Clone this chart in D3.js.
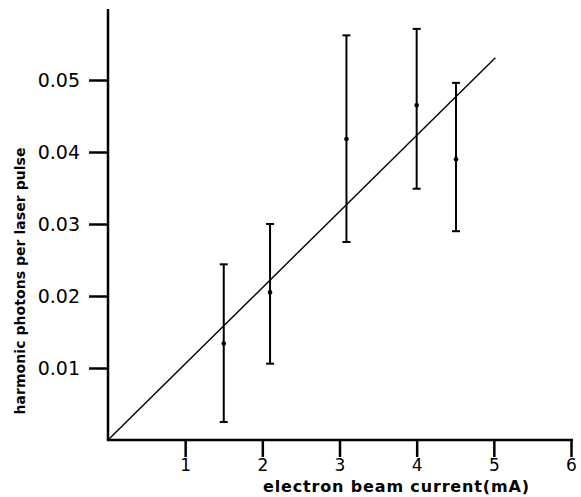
<!DOCTYPE html>
<html>
<head>
<meta charset="utf-8">
<script src="https://cdn.jsdelivr.net/npm/d3@7"></script>
<style>
  body { margin: 0; background: #fff; }
  svg text { font-family: "DejaVu Sans", sans-serif; fill: #000; }
</style>
</head>
<body>
<div id="chart"></div>
<script>
// data
const current = [1.5, 2.1, 3.09, 4.0, 4.51]
const photons = [0.0134, 0.0205, 0.0418, 0.0465, 0.039]
const errLow = [0.0025, 0.0106, 0.0275, 0.0349, 0.029]
const errHigh = [0.0244, 0.030, 0.0562, 0.0571, 0.0496]
const fitX = [0, 5.02]
const fitY = [0, 0.0531]
const xTicks = [1, 2, 3, 4, 5, 6]
const yTicks = [0.01, 0.02, 0.03, 0.04, 0.05]

const width = 581, height = 497

const svg = d3.select("#chart")
    .append("svg")
    .attr("width", width)
    .attr("height", height)

const x = d3.scaleLinear().domain([0, 6]).range([108, 571])
const y = d3.scaleLinear().domain([0, 0.01]).range([440, 368])

//axes
const xAxis = d3.axisBottom(x)
    .tickValues(xTicks)
    .tickSize(17)
    .tickPadding(2)
    .tickFormat(d3.format("d"))

const yAxis = d3.axisLeft(y)
    .tickValues(yTicks)
    .tickSize(19)
    .tickPadding(9)
    .tickFormat(d3.format(".2f"))

const gx = svg.append("g")
    .attr("transform", "translate(0," + y(0) + ")")
    .call(xAxis)
gx.select(".domain").remove()
gx.append("line")
    .attr("x1", x(0) - 1).attr("x2", x(6) + 2)
    .attr("stroke", "#000").attr("stroke-width", 2.5)
gx.selectAll(".tick line").attr("stroke-width", 2.5)
gx.selectAll(".tick text")
    .attr("font-size", 17)
    .attr("fill", "#000")

const gy = svg.append("g")
    .attr("transform", "translate(" + x(0) + ",0)")
    .call(yAxis)
gy.select(".domain").remove()
gy.append("line")
    .attr("y1", 9).attr("y2", y(0) + 1)
    .attr("stroke", "#000").attr("stroke-width", 2.5)
gy.selectAll(".tick line").attr("stroke-width", 2.5)
gy.selectAll(".tick text")
    .attr("font-size", 19)
    .attr("fill", "#000")

//axis titles
svg.append("text")
    .attr("x", 396)
    .attr("y", 492)
    .attr("text-anchor", "middle")
    .attr("font-size", 16)
    .attr("font-weight", 600)
    .attr("textLength", 266)
    .text("electron beam current(mA)")

svg.append("text")
    .attr("transform", "translate(25,281) rotate(-90)")
    .attr("text-anchor", "middle")
    .attr("font-size", 14)
    .attr("font-weight", "bold")
    .attr("textLength", 267)
    .text("harmonic photons per laser pulse")

//fit line
svg.append("line")
    .attr("x1", x(fitX[0])).attr("y1", y(fitY[0]))
    .attr("x2", x(fitX[1])).attr("y2", y(fitY[1]))
    .attr("stroke", "#000")
    .attr("stroke-width", 1.4)

//error bars and points
const pts = current.map((c, i) => ({ c: c, v: photons[i], lo: errLow[i], hi: errHigh[i] }))

const bars = svg.append("g").selectAll("g")
    .data(pts)
    .enter()
    .append("g")

bars.append("line")
    .attr("x1", d => x(d.c)).attr("x2", d => x(d.c))
    .attr("y1", d => y(d.lo)).attr("y2", d => y(d.hi))
    .attr("stroke", "#000").attr("stroke-width", 2)

bars.selectAll(".cap")
    .data(d => [[d.c, d.lo], [d.c, d.hi]])
    .enter()
    .append("line")
    .attr("class", "cap")
    .attr("x1", d => x(d[0]) - 4).attr("x2", d => x(d[0]) + 4)
    .attr("y1", d => y(d[1])).attr("y2", d => y(d[1]))
    .attr("stroke", "#000").attr("stroke-width", 2)

bars.append("circle")
    .attr("cx", d => x(d.c))
    .attr("cy", d => y(d.v))
    .attr("r", 2.3)
    .attr("fill", "#000")
</script>
</body>
</html>
